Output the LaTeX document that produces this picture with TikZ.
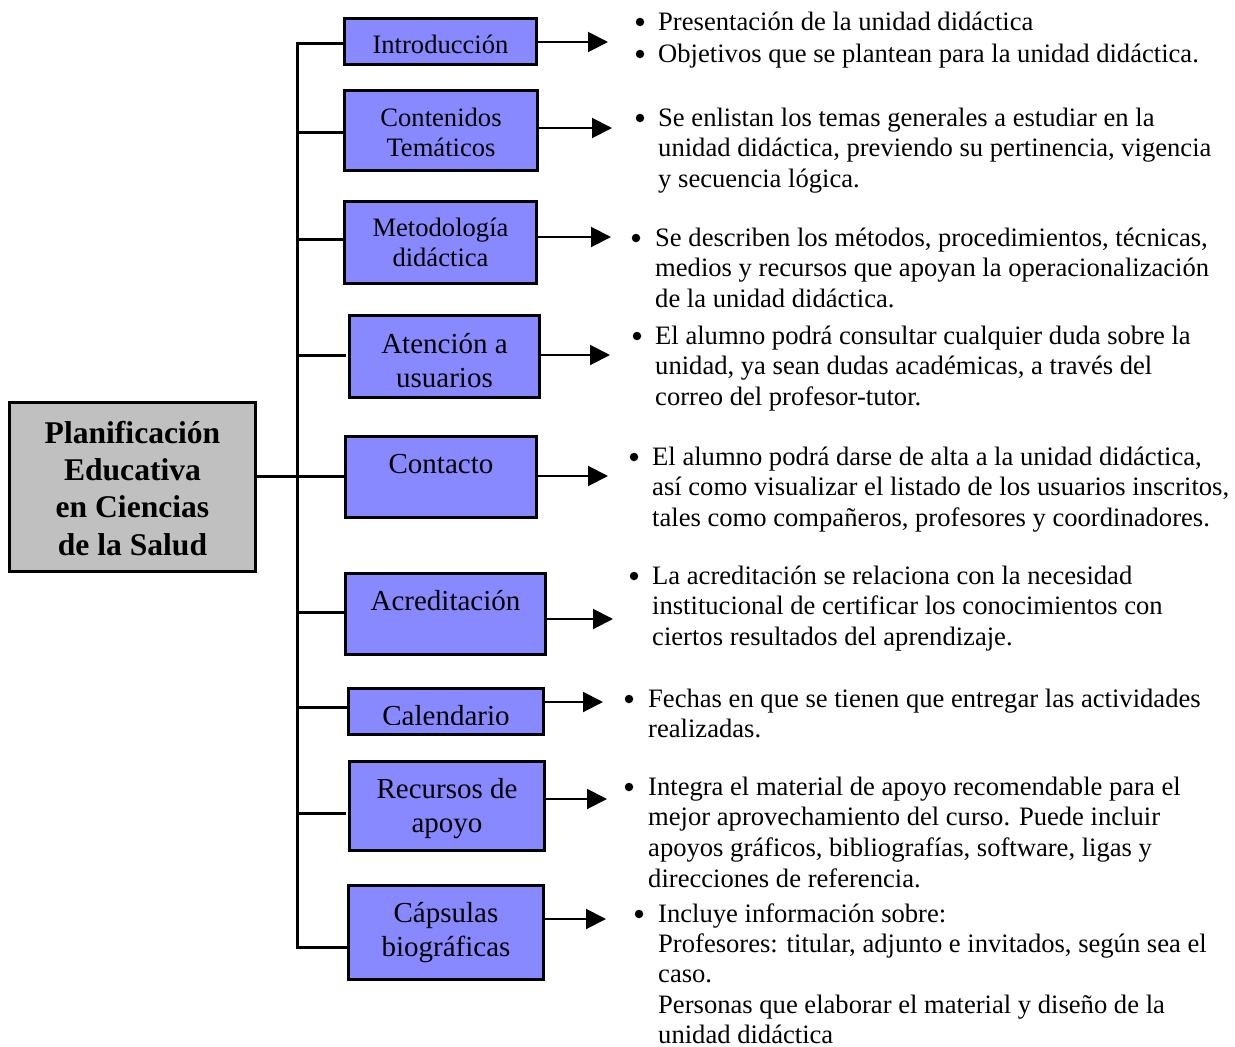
\documentclass[tikz,border=0pt]{standalone}
\usepackage{fontspec}
\setmainfont{Liberation Serif}
\usetikzlibrary{arrows.meta}
\definecolor{boxblue}{RGB}{136,136,255}
\definecolor{boxgray}{RGB}{192,192,192}
\begin{document}
\begin{tikzpicture}[x=1pt,y=-1pt,
  bbox/.style={draw=black, line width=3.3pt, fill=boxblue, inner sep=0pt, outer sep=0pt, anchor=north west},
  gbox/.style={draw=black, line width=3.3pt, fill=boxgray, inner sep=0pt, outer sep=0pt, anchor=north west},
  lblA/.style={font=\fontsize{26.6}{30.5}\selectfont, anchor=north, inner sep=0pt, align=center},
  lblB/.style={font=\fontsize{29}{34}\selectfont, anchor=north, inner sep=0pt, align=center},
  lblG/.style={font=\fontsize{31.6}{37.3}\selectfont\bfseries, anchor=north, inner sep=0pt, align=center},
  txt/.style={font=\fontsize{26.6}{30.7}\selectfont, anchor=north west, inner sep=0pt, align=left},
  bul/.style={circle, fill=black, inner sep=0pt, minimum size=8.5pt},
  line3/.style={draw=black, line width=3pt},
  arr/.style={draw=black, line width=2pt, -{Triangle[length=20pt, width=20pt]}}
]
\useasboundingbox (0,0) rectangle (1235,1047);

% boxes
\node[bbox, minimum width=192pt, minimum height=46pt] (intro) at (344.5,18.5) {};
\node[bbox, minimum width=193pt, minimum height=80pt] (cont) at (344.5,90.5) {};
\node[bbox, minimum width=192pt, minimum height=82pt] (metod) at (344.5,201.5) {};
\node[bbox, minimum width=190pt, minimum height=82pt] (aten) at (349.5,315.5) {};
\node[bbox, minimum width=191pt, minimum height=81pt] (contac) at (345.5,436.5) {};
\node[bbox, minimum width=200pt, minimum height=81pt] (acred) at (345.5,573.5) {};
\node[bbox, minimum width=195pt, minimum height=46pt] (cal) at (348.5,688.5) {};
\node[bbox, minimum width=195pt, minimum height=89pt] (recur) at (349.5,761.5) {};
\node[bbox, minimum width=195pt, minimum height=94pt] (caps) at (348.5,885.5) {};
\node[gbox, minimum width=246pt, minimum height=169pt] (plan) at (9.5,402.5) {};

% box labels
\node[lblG] (planL) at (132.5,416.9) {\strut Planificación\\Educativa\\en Ciencias\\de la Salud};
\node[lblA] (introL) at (440.5,31.6) {\strut Introducción};
\node[lblA] (contL) at (441,104.6) {\strut Contenidos\\Temáticos};
\node[lblA] (metodL) at (440.5,214.6) {\strut Metodología\\didáctica};
\node[lblB] (atenL) at (444.5,329.2) {\strut Atención a\\usuarios};
\node[lblB] (contacL) at (441,449.2) {\strut Contacto};
\node[lblB] (acredL) at (445.5,586.2) {\strut Acreditación};
\begin{scope}
  \clip (350,690) rectangle (542,724);
  \node[lblB] (calL) at (446,701.2) {\strut Calendario};
\end{scope}
\node[lblB] (recurL) at (447,774.2) {\strut Recursos de\\apoyo};
\node[lblB] (capsL) at (446,898.2) {\strut Cápsulas\\biográficas};

% spine and branches
\coordinate (s1) at (297,43);
\coordinate (s2) at (297,132);
\coordinate (s3) at (297,239);
\coordinate (s4) at (297,355);
\coordinate (m)  at (297,476);
\coordinate (s6) at (297,612);
\coordinate (s7) at (297,707);
\coordinate (s8) at (297,813);
\coordinate (s9) at (297,947);
\draw[line3, line join=miter] (s1 -| intro.west) -- (s1) -- (s9) -- (s9 -| caps.west);
\draw[line3] (s2) -- (s2 -| cont.west);
\draw[line3] (s3) -- (s3 -| metod.west);
\draw[line3, shorten >=4pt] (s4) -- (s4 -| aten.west);
\draw[line3] (m -| plan.east) -- (m -| contac.west);
\draw[line3] (s6) -- (s6 -| acred.west);
\draw[line3] (s7) -- (s7 -| cal.west);
\draw[line3, shorten >=4pt] (s8) -- (s8 -| recur.west);

% arrows
\coordinate (t1) at (608,42);
\coordinate (t2) at (612,128);
\coordinate (t3) at (611,237);
\coordinate (t4) at (610,355);
\coordinate (t5) at (608,476);
\coordinate (t6) at (613,619);
\coordinate (t7) at (603,702);
\coordinate (t8) at (607,799);
\coordinate (t9) at (606,919);
\draw[arr] (t1 -| intro.east) -- (t1);
\draw[arr] (t2 -| cont.east) -- (t2);
\draw[arr] (t3 -| metod.east) -- (t3);
\draw[arr] (t4 -| aten.east) -- (t4);
\draw[arr] (t5 -| contac.east) -- (t5);
\draw[arr] (t6 -| acred.east) -- (t6);
\draw[arr] (t7 -| cal.east) -- (t7);
\draw[arr] (t8 -| recur.east) -- (t8);
\draw[arr] (t9 -| caps.east) -- (t9);

% bullets (centre about 8px above the baseline)
\node[bul] (bu1a) at (640,22) {};
\node[bul] (bu1b) at (640,54) {};
\node[bul] (bu2) at (640,118) {};
\node[bul] (bu3) at (636,238) {};
\node[bul] (bu4) at (637,336) {};
\node[bul] (bu5) at (634,457) {};
\node[bul] (bu6) at (634,576) {};
\node[bul] (bu7) at (629,699) {};
\node[bul] (bu8) at (629,787) {};
\node[bul] (bu9) at (639,914) {};

% descriptions
\node[txt] (d1a) at (658,8.5) {\strut Presentación de la unidad didáctica};
\node[txt] (d1b) at (658,40.5) {\strut Objetivos que se plantean para la unidad didáctica.};
\node[txt] (d2) at (658,104.5) {\strut Se enlistan los temas generales a estudiar en la\\unidad didáctica, previendo su pertinencia, vigencia\\y secuencia lógica.};
\node[txt] (d3) at (655,224.5) {\strut Se describen los métodos, procedimientos, técnicas,\\medios y recursos que apoyan la operacionalización\\de la unidad didáctica.};
\node[txt] (d4) at (655,322.5) {\strut El alumno podrá consultar cualquier duda sobre la\\unidad, ya sean dudas académicas, a través del\\correo del profesor-tutor.};
\node[txt] (d5) at (652,443.5) {\strut El alumno podrá darse de alta a la unidad didáctica,\\así como visualizar el listado de los usuarios inscritos,\\tales como compañeros, profesores y coordinadores.};
\node[txt] (d6) at (652,562.5) {\strut La acreditación se relaciona con la necesidad\\institucional de certificar los conocimientos con\\ciertos resultados del aprendizaje.};
\node[txt] (d7) at (648,685.5) {\strut Fechas en que se tienen que entregar las actividades\\realizadas.};
\node[txt] (d8) at (648,773.5) {\strut Integra el material de apoyo recomendable para el\\mejor aprovechamiento del curso. Puede incluir\\apoyos gráficos, bibliografías, software, ligas y\\direcciones de referencia.};
\node[txt, font=\fontsize{26.6}{30.3}\selectfont] (d9) at (658,900.8) {\strut Incluye información sobre:\\Profesores: titular, adjunto e invitados, según sea el\\caso.\\Personas que elaborar el material y diseño de la\\unidad didáctica};
\end{tikzpicture}
\end{document}
